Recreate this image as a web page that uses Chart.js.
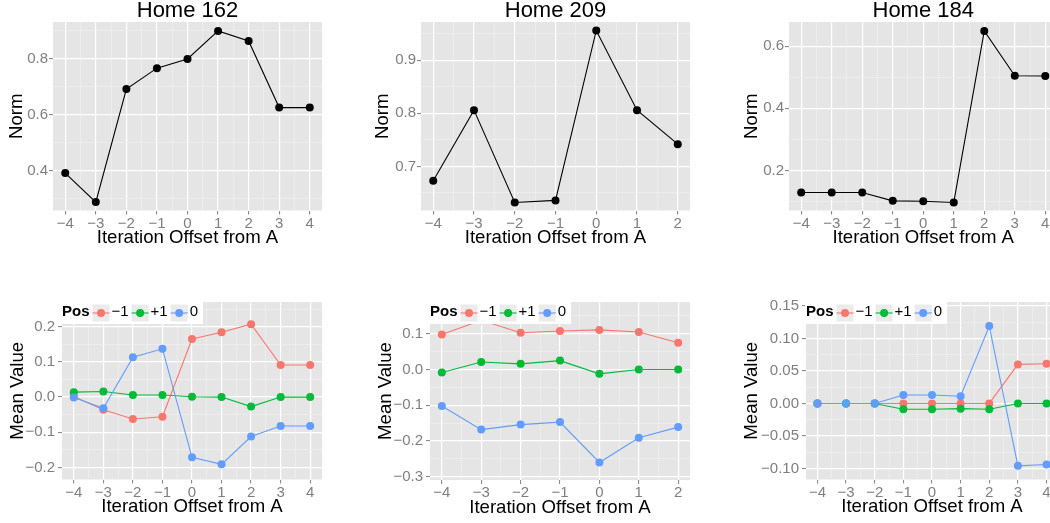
<!DOCTYPE html>
<html>
<head>
<meta charset="utf-8">
<script src="https://cdn.jsdelivr.net/npm/chart.js@4.4.0/dist/chart.umd.min.js"></script>
<style>
  body { margin: 0; background: #fff; width: 1050px; height: 523px; overflow: hidden; position: relative; }
  canvas { position: absolute; }
</style>
</head>
<body>
<canvas id="n162"></canvas>
<canvas id="n209"></canvas>
<canvas id="n184"></canvas>
<canvas id="m162"></canvas>
<canvas id="m209"></canvas>
<canvas id="m184"></canvas>
<script>
// --- data ---
const offsetsLong = [-4, -3, -2, -1, 0, 1, 2, 3, 4];
const offsetsShort = [-4, -3, -2, -1, 0, 1, 2];
const posLabels = ['\u22121', '+1', '0'];

const norm162 = [0.392, 0.288, 0.692, 0.767, 0.800, 0.900, 0.864, 0.626, 0.626];
const norm209 = [0.673, 0.806, 0.632, 0.636, 0.956, 0.806, 0.742];
const norm184 = [0.129, 0.129, 0.129, 0.102, 0.101, 0.097, 0.649, 0.505, 0.504];

const mean162Neg  = [0.002, -0.036, -0.062, -0.056, 0.165, 0.184, 0.207, 0.091, 0.091];
const mean162Plus = [0.014, 0.016, 0.006, 0.006, 0.001, 0.000, -0.027, 0.000, 0.000];
const mean162Zero = [-0.001, -0.032, 0.113, 0.137, -0.171, -0.191, -0.112, -0.082, -0.082];

const mean209Neg  = [0.098, 0.138, 0.103, 0.108, 0.111, 0.105, 0.075];
const mean209Plus = [-0.008, 0.021, 0.016, 0.025, -0.012, 0.000, 0.000];
const mean209Zero = [-0.102, -0.168, -0.154, -0.147, -0.260, -0.191, -0.161];

const mean184Neg  = [0.000, 0.000, 0.000, 0.000, 0.000, 0.000, 0.000, 0.060, 0.061];
const mean184Plus = [0.000, 0.000, 0.000, -0.009, -0.009, -0.008, -0.009, 0.000, 0.000];
const mean184Zero = [0.000, 0.000, 0.000, 0.013, 0.013, 0.011, 0.119, -0.096, -0.094];

const norm162Ticks = [0.4, 0.6, 0.8];
const norm209Ticks = [0.7, 0.8, 0.9];
const norm184Ticks = [0.2, 0.4, 0.6];
const mean162Ticks = [-0.2, -0.1, 0.0, 0.1, 0.2];
const mean209Ticks = [-0.3, -0.2, -0.1, 0.0, 0.1];
const mean184Ticks = [-0.10, -0.05, 0.00, 0.05, 0.10, 0.15];

const posColors = ['#F8766D', '#00BA38', '#619CFF'];
const FONT = '"Liberation Sans", Arial, Helvetica, sans-serif';
Chart.defaults.font.family = FONT;

function minusFmt(v, dec) {
  const s = Math.abs(v).toFixed(dec);
  return (v < -1e-9 ? '\u2212' : '') + s;
}

// layout: canvas box [left, top, w, h], plot area [left, top, right, bottom] (page coords)
const panels = [
  { id: 'n162', box: [0, 0, 350, 254], area: [53, 22, 322, 210.5], title: 'Home 162', yTitle: 'Norm', yTitleX: 17, yPad: 1,
    xs: offsetsLong, xRange: [-4.4, 4.4], yRange: [0.258, 0.932], yTicks: norm162Ticks, dec: 1,
    series: [norm162], colors: ['#000000'] },
  { id: 'n209', box: [350, 0, 350, 254], area: [421, 22, 690, 210.5], title: 'Home 209', yTitle: 'Norm', yTitleX: 383, yPad: 1,
    xs: offsetsShort, xRange: [-4.3, 2.3], yRange: [0.617, 0.972], yTicks: norm209Ticks, dec: 1,
    series: [norm209], colors: ['#000000'] },
  { id: 'n184', box: [700, 0, 362, 254], area: [789, 22, 1057.5, 210.5], title: 'Home 184', yTitle: 'Norm', yTitleX: 751.7, yPad: 1,
    xs: offsetsLong, xRange: [-4.4, 4.4], yRange: [0.071, 0.678], yTicks: norm184Ticks, dec: 1,
    series: [norm184], colors: ['#000000'] },
  { id: 'm162', box: [0, 258, 350, 266], area: [62, 302, 322, 479.5], yTitle: 'Mean Value', yTitleX: 18.3, yPad: 3,
    xs: offsetsLong, xRange: [-4.4, 4.4], yRange: [-0.234, 0.270], yTicks: mean162Ticks, dec: 1,
    series: [mean162Neg, mean162Plus, mean162Zero], colors: posColors, legend: true },
  { id: 'm209', box: [350, 258, 350, 266], area: [430, 302, 690, 480], yTitle: 'Mean Value', yTitleX: 386, yPad: 3,
    xs: offsetsShort, xRange: [-4.3, 2.3], yRange: [-0.309, 0.189], yTicks: mean209Ticks, dec: 1,
    series: [mean209Neg, mean209Plus, mean209Zero], colors: posColors, legend: true },
  { id: 'm184', box: [700, 258, 362, 266], area: [806, 302, 1058.4, 479.5], yTitle: 'Mean Value', yTitleX: 751.7, yPad: 3,
    xs: offsetsLong, xRange: [-4.4, 4.4], yRange: [-0.117, 0.156], yTicks: mean184Ticks, dec: 2,
    series: [mean184Neg, mean184Plus, mean184Zero], colors: posColors, legend: true }
];

// major ticks plus the half-step minor lines ggplot draws between them
function gridTicks(majors, lo, hi) {
  const step = majors[1] - majors[0];
  const out = [];
  const seen = new Set();
  const add = (v, minor) => {
    const r = Math.round(v * 1e6) / 1e6;
    if (r < lo || r > hi || seen.has(r)) return;
    seen.add(r);
    out.push({ value: r, minor });
  };
  majors.forEach(m => add(m, false));
  majors.forEach(m => { add(m - step / 2, true); add(m + step / 2, true); });
  return out.sort((a, b) => a.value - b.value);
}

const panelBg = {
  id: 'panelBg',
  beforeDraw(chart) {
    const { ctx, chartArea: a } = chart;
    ctx.save();
    ctx.fillStyle = '#E5E5E5';
    ctx.fillRect(a.left, a.top, a.right - a.left, a.bottom - a.top);
    ctx.restore();
  }
};

// inline "Pos" legend at the top-left of the panel
const posLegend = {
  id: 'posLegend',
  afterDraw(chart, args, opts) {
    if (!opts.show) return;
    const { ctx, chartArea } = chart;
    const x0 = chartArea.left, y0 = chartArea.top;
    const key = 17;
    ctx.save();
    ctx.font = 'bold 15px ' + FONT;
    const tw = ctx.measureText('Pos').width;
    ctx.font = '15px ' + FONT;
    const lw = posLabels.map(l => ctx.measureText(l).width);
    let total = tw + 3;
    lw.forEach(w => { total += key + 2 + w + 3; });
    ctx.fillStyle = '#FFFFFF';
    ctx.fillRect(x0 - 1, y0, total + 3, 22);
    ctx.textBaseline = 'middle';
    ctx.fillStyle = '#000';
    ctx.font = 'bold 15px ' + FONT;
    ctx.fillText('Pos', x0, y0 + 10);
    let x = x0 + tw + 3;
    ctx.font = '15px ' + FONT;
    posLabels.forEach((l, i) => {
      ctx.fillStyle = '#EBEBEB';
      ctx.fillRect(x, y0 + 2.5, key, key);
      ctx.strokeStyle = posColors[i];
      ctx.lineWidth = 1.1;
      ctx.beginPath();
      ctx.moveTo(x, y0 + 11);
      ctx.lineTo(x + key, y0 + 11);
      ctx.stroke();
      ctx.fillStyle = posColors[i];
      ctx.beginPath();
      ctx.arc(x + key / 2, y0 + 11, 4, 0, Math.PI * 2);
      ctx.fill();
      ctx.fillStyle = '#000';
      ctx.fillText(l, x + key + 2, y0 + 10);
      x += key + 2 + lw[i] + 3;
    });
    ctx.restore();
  }
};

function makeChart(p) {
  const cv = document.getElementById(p.id);
  const [cx, cy, cw, ch] = p.box;
  cv.style.left = cx + 'px';
  cv.style.top = cy + 'px';
  cv.width = cw; cv.height = ch;
  cv.style.width = cw + 'px'; cv.style.height = ch + 'px';
  const L = p.area[0] - cx, T = p.area[1] - cy, R = p.area[2] - cx, B = p.area[3] - cy;
  const titleH = p.title ? 22 : 0;
  const xAxisH = 42;

  const yT = gridTicks(p.yTicks, p.yRange[0], p.yRange[1]);
  const xT = gridTicks(p.xs, p.xRange[0], p.xRange[1]);

  // lines first, points on top (like geom_line + geom_point)
  const datasets = [];
  p.series.forEach((s, i) => {
    const pts = p.xs.map((x, j) => ({ x, y: s[j] }));
    datasets.push({
      data: pts, borderColor: p.colors[i], borderWidth: 1.1, pointRadius: 0,
      fill: false, tension: 0, order: 10 - i
    });
    datasets.push({
      data: pts, showLine: false, pointRadius: 4, pointBorderWidth: 0,
      pointBackgroundColor: p.colors[i], pointBorderColor: p.colors[i], order: 5 - i
    });
  });

  const gridOpts = {
    color: c => (c.tick && c.tick.minor) ? '#F2F2F2' : '#FFFFFF',
    lineWidth: c => (c.tick && c.tick.minor) ? 0.6 : 1.2,
    tickColor: c => (c.tick && c.tick.minor) ? 'rgba(0,0,0,0)' : '#7F7F7F',
    tickWidth: 1,
    tickLength: 4
  };

  new Chart(cv, {
    type: 'line',
    data: { datasets },
    options: {
      responsive: false,
      animation: false,
      devicePixelRatio: 1,
      layout: { padding: { left: 0, top: T - titleH, right: cw - R, bottom: ch - B - xAxisH } },
      plugins: {
        legend: { display: false },
        tooltip: { enabled: false },
        title: {
          display: !!p.title, text: p.title || '', color: '#000', fullSize: false,
          font: { size: 22, weight: 'normal', lineHeight: 1 }, padding: 0
        },
        posLegend: { show: !!p.legend }
      },
      scales: {
        x: {
          type: 'linear', min: p.xRange[0], max: p.xRange[1],
          afterBuildTicks: s => { s.ticks = xT.map(t => ({ value: t.value, minor: t.minor })); },
          afterFit: s => { s.height = xAxisH; },
          grid: gridOpts,
          border: { display: false },
          ticks: {
            autoSkip: false, maxRotation: 0, padding: 0, color: '#7F7F7F', font: { size: 15 },
            callback: (v, i, ticks) => ticks[i].minor ? '' : minusFmt(v, 0)
          },
          title: { display: true, text: 'Iteration Offset from A', color: '#000', font: { size: 18.6 }, padding: { top: 0, bottom: 3.2 } }
        },
        y: {
          type: 'linear', min: p.yRange[0], max: p.yRange[1],
          afterBuildTicks: s => { s.ticks = yT.map(t => ({ value: t.value, minor: t.minor })); },
          afterFit: s => { s.width = L; },
          grid: gridOpts,
          border: { display: false },
          ticks: {
            autoSkip: false, padding: p.yPad, color: '#7F7F7F', font: { size: 15 },
            callback: (v, i, ticks) => ticks[i].minor ? '' : minusFmt(v, p.dec)
          },
          title: { display: true, text: p.yTitle, color: '#000', font: { size: 18.6 }, padding: { top: p.yTitleX - cx - 11.2, bottom: 0 } }
        }
      }
    },
    plugins: [panelBg, posLegend]
  });
}

panels.forEach(makeChart);
</script>
</body>
</html>
